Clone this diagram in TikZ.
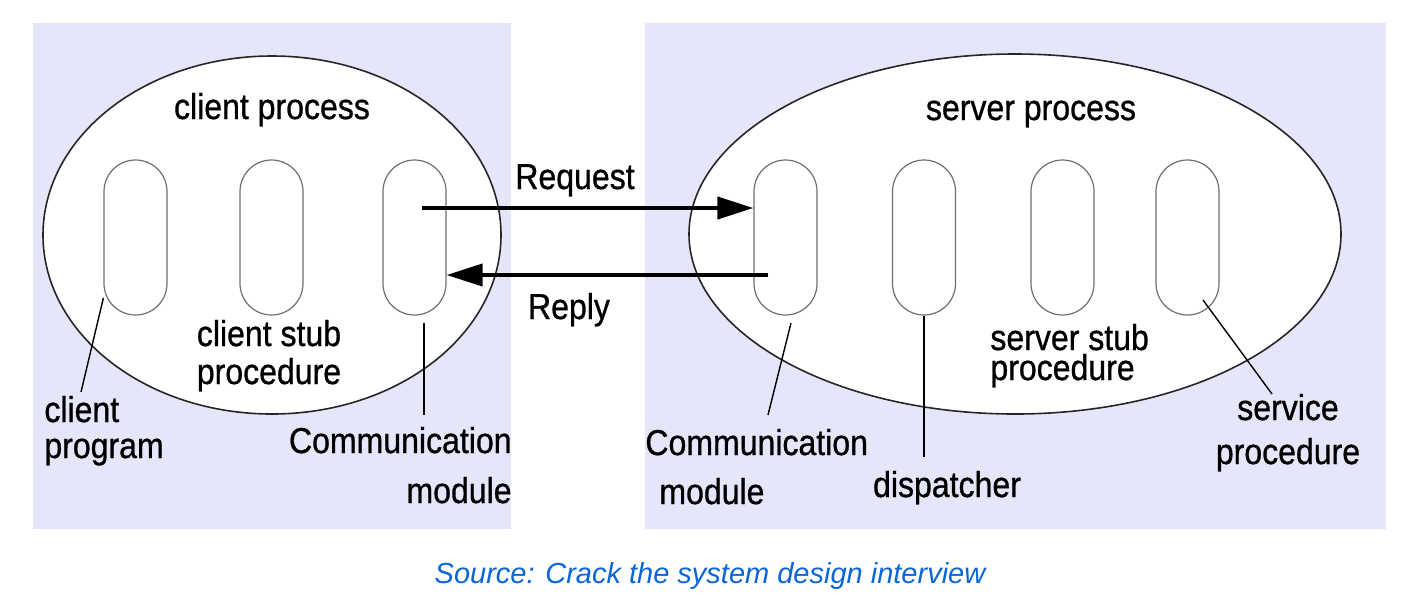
\documentclass[tikz,border=0pt]{standalone}
\usepackage{fontspec}
\setmainfont{Liberation Sans}[FakeStretch=0.89, FakeBold=0.8]
\newfontfamily\capfont{Liberation Sans}
\usetikzlibrary{arrows.meta,shapes.geometric}
\definecolor{lavbg}{RGB}{230,230,250}
\definecolor{srcblue}{RGB}{10,102,214}
\definecolor{pillgray}{RGB}{110,110,110}

\begin{document}
\begin{tikzpicture}[x=0.5pt, y=-0.5pt, >={Triangle[length=18pt,width=11pt]},
        proc/.style={ellipse, draw=black!85, line width=0.8pt, fill=white, inner sep=0pt},
        pill/.style={rectangle, draw=pillgray, line width=0.6pt, fill=white,
            minimum width=31.5pt, minimum height=77.5pt, rounded corners=15.75pt, inner sep=0pt},
        lbl/.style={font=\fontsize{18}{18}\selectfont, inner sep=0pt},
        lead/.style={line width=0.7pt},
        msg/.style={->, line width=2pt}]
        \useasboundingbox (0,0) rectangle (1408,596);
        \fill[white] (0,0) rectangle (1408,596);
        \fill[lavbg] (33,23) rectangle (511,529);
        \fill[lavbg] (645,23) rectangle (1386,529);

        \node[proc, minimum width=229pt, minimum height=179pt] (client) at (272,235) {};
        \node[proc, minimum width=326pt, minimum height=180pt] (server) at (1015,234) {};

        \node[pill] (cprog) at (135.5,237.5) {};
        \node[pill] (cstub) at (271.5,237.5) {};
        \node[pill] (ccomm) at (414.5,237.5) {};
        \node[pill] (scomm) at (785.5,237.5) {};
        \node[pill] (disp) at (924,237.5) {};
        \node[pill] (sstub) at (1062.5,237.5) {};
        \node[pill] (serv) at (1187.5,237.5) {};

        \node[lbl, anchor=base] (cproc) at (272,119) {client process};
        \node[lbl, anchor=base] (sproc) at (1031,120) {server process};
        \node[lbl, anchor=base] (req) at (575,189) {Request};
        \node[lbl, anchor=base] (rep) at (569,319) {Reply};

        \node[lbl, align=left, anchor=base west] (cprogl) at (44,458) {client\\program};
        \node[lbl, align=center, anchor=base] (cstubl) at (269,384) {client stub\\[1pt]procedure};
        \node[lbl, align=right, anchor=base east] (ccomml) at (512,503) {Communication\\[7pt]module};
        \node[lbl, align=left, anchor=base west] (scomml) at (645,504) {Communication\\[6.5pt]\hspace*{7pt}module};
        \node[lbl, anchor=base] (displ) at (947,497) {dispatcher};
        \node[lbl, align=left, anchor=base west] (sstubl) at (990,380) {server stub\\[-3pt]procedure};
        \node[lbl, align=center, anchor=base] (servl) at (1288,464) {service\\[4pt]procedure};

        \coordinate (reqs) at (422,208);
        \coordinate (reps) at (768,275);
        \draw[msg] (reqs) -- (reqs -| scomm.west);
        \draw[msg] (reps) -- (reps -| ccomm.east);

        \coordinate (cprogend) at (81,392);
        \coordinate (ccommtop) at (424,323);
        \coordinate (scommtop) at (791,323);
        \coordinate (scommend) at (768,415);
        \coordinate (servtop) at (1203,300);
        \coordinate (servend) at (1272,394);
        \draw[lead] (cprog.-118) -- (cprogend);
        \draw[lead, shorten >=6pt] (ccommtop) -- (ccommtop |- ccomml.north);
        \draw[lead] (scommtop) -- (scommend);
        \draw[lead, shorten >=7pt] (disp.south) -- (disp.south |- displ.north);
        \draw[lead] (servtop) -- (servend);

        \node[font=\capfont\itshape\fontsize{14.5}{16}\selectfont, text=srcblue, anchor=base, inner sep=0pt]
            (src) at (710,583) {Source: Crack the system design interview};
    \end{tikzpicture}
\end{document}
